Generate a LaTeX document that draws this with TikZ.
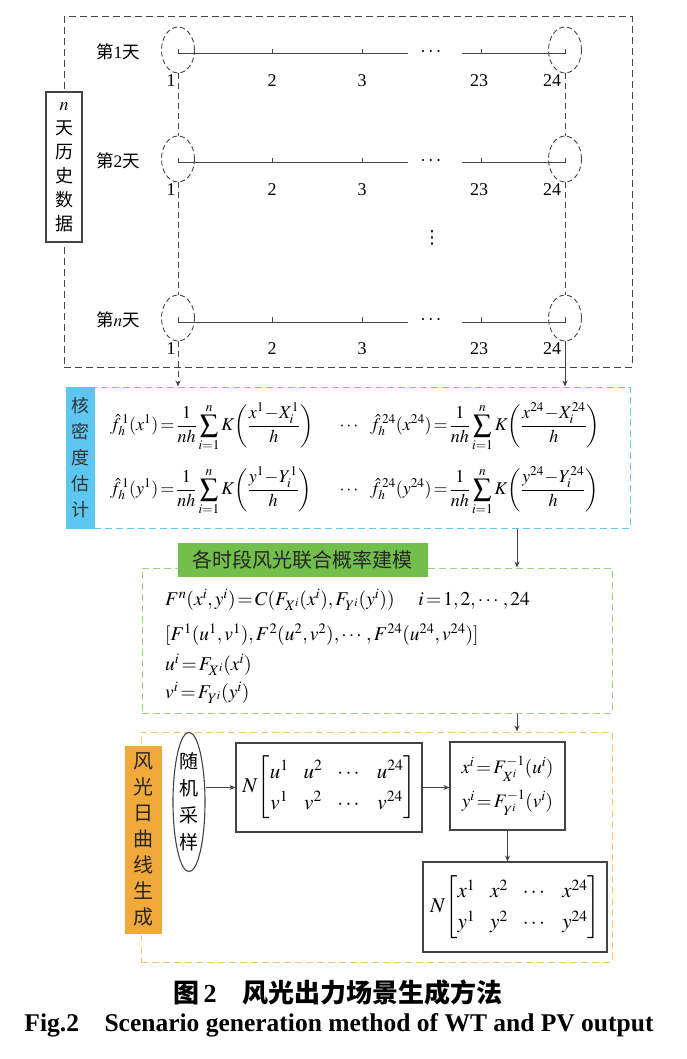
\documentclass[tikz,border=0pt]{standalone}
\usepackage{amsmath}
\usepackage{mathptmx}
\usepackage{fontspec}
\setmainfont{Liberation Serif}
\newfontfamily\cjk{Noto Sans CJK SC}
\newfontfamily\symfont{DejaVu Sans}
\usetikzlibrary{shapes.geometric, arrows.meta, positioning, calc}
\definecolor{kdecolor}{HTML}{62C5EE}
\definecolor{copcolor}{HTML}{97D47A}
\definecolor{gencolor}{HTML}{F5C572}
\definecolor{kdefill}{HTML}{5CC7F0}
\definecolor{copfill}{HTML}{72BF4C}
\definecolor{genfill}{HTML}{F1AA3A}
\definecolor{linecolor}{HTML}{444444}

\begin{document}
\begin{tikzpicture}[x=1pt, y=-1pt,
    frame/.style={rectangle, draw=#1, line width=1pt, dash pattern=on 7pt off 4pt, minimum width=10pt, minimum height=10pt, inner sep=0pt},
    tag/.style={rectangle, draw=#1, fill=#1, minimum width=30pt, inner sep=0pt, align=center},
    daylab/.style={font=\cjk\fontsize{17.5}{18}\selectfont, inner sep=0pt},
    num/.style={font=\fontsize{18}{20}\selectfont, inner sep=0pt},
    hole/.style={ellipse, draw=linecolor, line width=0.9pt, dash pattern=on 5pt off 3pt, minimum width=33pt, minimum height=46pt, inner sep=0pt},
    tl/.style={draw=linecolor, line width=1pt},
    formula/.style={font=\fontsize{18}{21}\selectfont, inner sep=0pt, anchor=west},
    box/.style={rectangle, draw=linecolor, line width=1.1pt, inner sep=0pt, font=\fontsize{19}{22}\selectfont, align=center},
    mat/.style={box, font=\fontsize{21}{24}\selectfont},
    arrow/.style={-{Stealth[length=6pt, width=5pt]}, draw=linecolor, line width=1pt}
]
\useasboundingbox (0,0) rectangle (687,1059);

% history data
\node[frame=linecolor, minimum width=568pt, minimum height=350pt] (hist) at (348,192) {};
\node[rectangle, draw=linecolor, fill=white, line width=1.1pt, minimum width=36pt, minimum height=150pt, inner sep=0pt, align=center, font=\cjk\fontsize{18}{24}\selectfont] (histtag) at (64,167) {$n$\\天\\历\\史\\数\\据};

\foreach \r/\yy/\txt in {1/54/{第{\rmfamily 1}天}, 2/163/{第{\rmfamily 2}天}, n/322/{第$n$天}} {
  \node[daylab] (day\r) at (118,\yy-2) {\txt};
  \draw[tl] (178,\yy-5) -- (178,\yy) -- (408,\yy);
  \draw[tl] (462,\yy) -- (565,\yy) -- (565,\yy-5);
  \foreach \x in {272,362,481} \draw[tl] (\x,\yy) -- (\x,\yy-5);
  \node[num, font=\bfseries\fontsize{20}{20}\selectfont] (dots\r) at (432,\yy-2) {$\cdots$};
  \foreach \x/\t in {171/1, 272/2, 362/3, 479/23, 552/24}
    \node[num] (t\r\t) at (\x,\yy+27) {\t};
  \node[hole] (l\r) at (178,\yy-4) {};
  \node[hole] (r\r) at (565,\yy-4) {};
}
\node[inner sep=0pt, font=\symfont\fontsize{18}{20}\selectfont] (vdots) at (432,238) {⋮};

% kernel density estimation
\node[frame=kdecolor, minimum width=536pt, minimum height=141pt] (kde) at (362,457.5) {};
\node[tag=kdefill, minimum width=28pt, minimum height=141pt, text=black!80, font=\cjk\fontsize{18}{26}\selectfont] (kdetag) at (80,457.5) {核\\密\\度\\估\\计};
\node[formula] (fx1) at (110,427) {$\displaystyle \hat{f}_h^{\,1}(x^1)\!=\!\frac{1}{nh}\sum_{i=1}^{n}K\!\left(\frac{x^1\!-\!X_i^1}{h}\right)$};
\node[formula, anchor=center] (fxd) at (350,427) {$\cdots$};
\node[formula] (fx24) at (370,427) {$\displaystyle \hat{f}_h^{\,24}(x^{24})\!=\!\frac{1}{nh}\sum_{i=1}^{n}K\!\left(\frac{x^{24}\!-\!X_i^{24}}{h}\right)$};
\node[formula] (fy1) at (110,491) {$\displaystyle \hat{f}_h^{\,1}(y^1)\!=\!\frac{1}{nh}\sum_{i=1}^{n}K\!\left(\frac{y^1\!-\!Y_i^1}{h}\right)$};
\node[formula, anchor=center] (fyd) at (350,491) {$\cdots$};
\node[formula] (fy24) at (370,491) {$\displaystyle \hat{f}_h^{\,24}(y^{24})\!=\!\frac{1}{nh}\sum_{i=1}^{n}K\!\left(\frac{y^{24}\!-\!Y_i^{24}}{h}\right)$};

% joint probability modelling
\node[frame=copcolor, minimum width=470pt, minimum height=145pt] (cop) at (377,640.5) {};
\node[tag=copfill, minimum width=249pt, minimum height=33pt, text=black!85, font=\cjk\fontsize{20}{22}\selectfont] (coptag) at (302.5,559.5) {各时段风光联合概率建模};
\node[formula, font=\fontsize{19.5}{22}\selectfont] (c1) at (165,600) {$F^n(x^i,y^i)\!=\!C(F_{X^i}(x^i),F_{Y^i}(y^i))\quad\; i\!=\!1,2,\cdots,24$};
\node[formula, font=\fontsize{19.5}{22}\selectfont] (c2) at (165,635) {$[F^1(u^1,v^1),F^2(u^2,v^2),\cdots,F^{24}(u^{24},v^{24})]$};
\node[formula, font=\fontsize{19.5}{22}\selectfont] (c3) at (165,665) {$u^i\!=\!F_{X^i}(x^i)$};
\node[formula, font=\fontsize{19.5}{22}\selectfont] (c4) at (165,693) {$v^i\!=\!F_{Y^i}(y^i)$};

% daily curve generation
\node[frame=gencolor, minimum width=471pt, minimum height=230pt] (gen) at (376.5,847) {};
\node[tag=genfill, minimum width=36pt, minimum height=187pt, text=black!85, font=\cjk\fontsize{20}{26}\selectfont] (gentag) at (143,839.5) {风\\光\\日\\曲\\线\\生\\成};
\node[ellipse, draw=linecolor, line width=1.1pt, minimum width=32pt, minimum height=130pt, inner sep=0pt, align=center, font=\cjk\fontsize{19}{27}\selectfont] (samp) at (189,802) {随\\机\\采\\样};
\node[mat, minimum width=186pt, minimum height=89pt] (mu) at (329,787.5) {$N\!\renewcommand{\arraystretch}{1.3}\setlength{\arraycolsep}{7.5pt}\begin{bmatrix} u^1 & u^2 & \cdots & u^{24}\\ v^1 & v^2 & \cdots & v^{24}\end{bmatrix}$};
\node[box, minimum width=115pt, minimum height=88pt] (inv) at (507.5,786) {$x^i\!=\!F_{X^i}^{-1}(u^i)$\\[8pt]$y^i\!=\!F_{Y^i}^{-1}(v^i)$};
\node[mat, minimum width=184pt, minimum height=90pt] (res) at (515,907) {$N\!\renewcommand{\arraystretch}{1.3}\setlength{\arraycolsep}{7.5pt}\begin{bmatrix} x^1 & x^2 & \cdots & x^{24}\\ y^1 & y^2 & \cdots & y^{24}\end{bmatrix}$};

% connectors
\draw[linecolor, line width=1pt, dash pattern=on 6pt off 4pt] (l1.south) -- (l2.north);
\draw[linecolor, line width=1pt, dash pattern=on 6pt off 4pt] (l2.south) -- (ln.north);
\draw[arrow, dash pattern=on 6pt off 4pt] (ln.south) -- (ln.south |- kde.north);
\draw[linecolor, line width=1pt, dash pattern=on 6pt off 4pt] (r1.south) -- (r2.north);
\draw[linecolor, line width=1pt, dash pattern=on 6pt off 4pt] (r2.south) -- (rn.north);
\draw[arrow] (rn.south) -- (rn.south |- kde.north);
\coordinate (jx) at (517,0);
\draw[arrow] (kde.south -| jx) -- (cop.north -| jx);
\draw[arrow] (cop.south -| jx) -- (gen.north -| jx);
\draw[arrow] (samp.east |- mu.west) -- (mu.west);
\draw[arrow] (mu.east) -- (mu.east -| inv.west);
\draw[arrow] (inv.south) -- (inv.south |- res.north);

% caption
\node[font=\cjk\bfseries\fontsize{26}{28}\selectfont, inner sep=0pt] (cap) at (338,993) {图\,{\rmfamily 2}\quad 风光出力场景生成方法};
\node[font=\bfseries\fontsize{25.5}{28}\selectfont, inner sep=0pt] (capen) at (339,1025) {Fig.2\quad Scenario generation method of WT and PV output};
\end{tikzpicture}
\end{document}
